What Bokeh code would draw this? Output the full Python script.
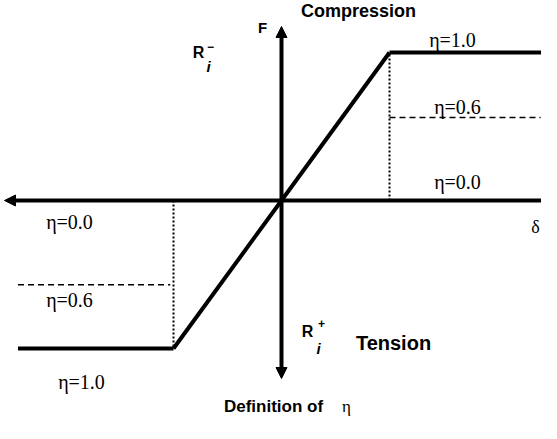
from bokeh.plotting import figure
from bokeh.models import Range1d, Arrow, NormalHead
from bokeh.embed import file_html
from bokeh.resources import INLINE
from bokeh.core.properties import value

# ---- data (normalised displacement / force) ----
backbone_disp = [-1.0, 0.0, 1.0]          # yield displacement in tension / compression
backbone_force = [-1.0, 0.0, 1.0]         # R_i^+ (tension) , R_i^- (compression)
eta_labels = ["η=1.0", "η=0.6", "η=0.0"]
eta_force = [1.0, 0.56, 0.0]              # post-yield force level drawn for each eta
disp_max = 2.46
disp_min = -2.44
dash_end_pos = 2.40
dash_end_neg = -1.03

# ---- layout: map image pixels to data ----
W, H = 541, 423
ox, oy = 281, 200      # origin in canvas pixels
sx, sy = 108.0, 148.0  # pixels per unit


def dx(px):
    return (px - 8 - ox) / sx


def dy(py):
    return (oy - (py - 8)) / sy


p = figure(width=W, height=H, output_backend="svg", toolbar_location=None,
           x_range=Range1d(-ox / sx, (W - ox) / sx),
           y_range=Range1d((oy - H) / sy, oy / sy),
           min_border=0)
p.axis.visible = False
p.grid.visible = False
p.outline_line_color = None
p.background_fill_color = "white"
p.border_fill_color = "white"

# axes with arrows
head = dict(size=11, fill_color="black", line_color="black")
p.line([0, (W - ox) / sx], [0, 0], line_width=4, color="black")
p.add_layout(Arrow(end=NormalHead(**head), x_start=0, y_start=0, x_end=dx(12), y_end=0,
                   line_width=4, line_color="black"))
p.add_layout(Arrow(end=NormalHead(**head), x_start=0, y_start=0, x_end=0, y_end=dy(34),
                   line_width=4, line_color="black"))
p.add_layout(Arrow(end=NormalHead(**head), x_start=0, y_start=0, x_end=0, y_end=dy(386),
                   line_width=4, line_color="black"))

# backbone
p.line(backbone_disp, backbone_force, line_width=4, color="black")
p.line([backbone_disp[2], disp_max], [eta_force[0], eta_force[0]], line_width=4, color="black")
p.line([disp_min, backbone_disp[0]], [-eta_force[0], -eta_force[0]], line_width=4, color="black")

# eta = 0.6 dashed levels
p.line([backbone_disp[2], dash_end_pos], [eta_force[1], eta_force[1]],
       line_width=1.5, line_dash="6 4", color="black")
p.line([disp_min, dash_end_neg], [-eta_force[1] - 0.01, -eta_force[1] - 0.01],
       line_width=1.5, line_dash="6 4", color="black")

# dotted verticals at yield
p.line([backbone_disp[2], backbone_disp[2]], [0, eta_force[0]], line_width=2,
       line_dash="2 2", color="black")
p.line([backbone_disp[0], backbone_disp[0]], [0, -eta_force[0]], line_width=2,
       line_dash="2 2", color="black")

serif = value("Liberation Serif")
sans = value("Liberation Sans")

# eta labels
p.text(x=[dx(460), dx(465), dx(465)], y=[dy(47), dy(114), dy(189)], text=eta_labels,
       text_font=serif, text_font_size="20px", text_align="center", text_baseline="middle")
p.text(x=[dx(89), dx(77), dx(77)], y=[dy(389), dy(307), dy(229)], text=eta_labels,
       text_font=serif, text_font_size="20px", text_align="center", text_baseline="middle")

# titles
p.text(x=[dx(366)], y=[dy(18)], text=["Compression"], text_font=sans, text_font_style="bold",
       text_font_size="18px", text_align="center", text_baseline="middle")
p.text(x=[dx(401)], y=[dy(350)], text=["Tension"], text_font=sans, text_font_style="bold",
       text_font_size="20px", text_align="center", text_baseline="middle")
p.text(x=[dx(270)], y=[dy(35)], text=["F"], text_font=sans, text_font_style="bold",
       text_font_size="15px", text_align="center", text_baseline="middle")
p.text(x=[dx(543)], y=[dy(234)], text=["δ"], text_font=serif,
       text_font_size="18px", text_align="center", text_baseline="middle")
p.text(x=[dx(281)], y=[dy(414)], text=["Definition of"], text_font=sans, text_font_style="bold",
       text_font_size="17px", text_align="center", text_baseline="middle")
p.text(x=[dx(354)], y=[dy(414)], text=["η"], text_font=serif,
       text_font_size="17px", text_align="center", text_baseline="middle")

# R_i labels
p.text(x=[dx(206), dx(315)], y=[dy(60), dy(339)], text=["R", "R"], text_font=sans,
       text_font_style="bold", text_font_size="16px", text_align="center", text_baseline="middle")
p.text(x=[dx(218), dx(329)], y=[dy(54), dy(331)], text=["−", "+"], text_font=sans,
       text_font_style="bold", text_font_size="12px", text_align="center", text_baseline="middle")
p.text(x=[dx(216), dx(326)], y=[dy(74), dy(356)], text=["i", "i"], text_font=sans,
       text_font_style="bold italic", text_font_size="15px", text_align="center",
       text_baseline="middle")

open("out.html", "w").write(file_html(p, INLINE))
